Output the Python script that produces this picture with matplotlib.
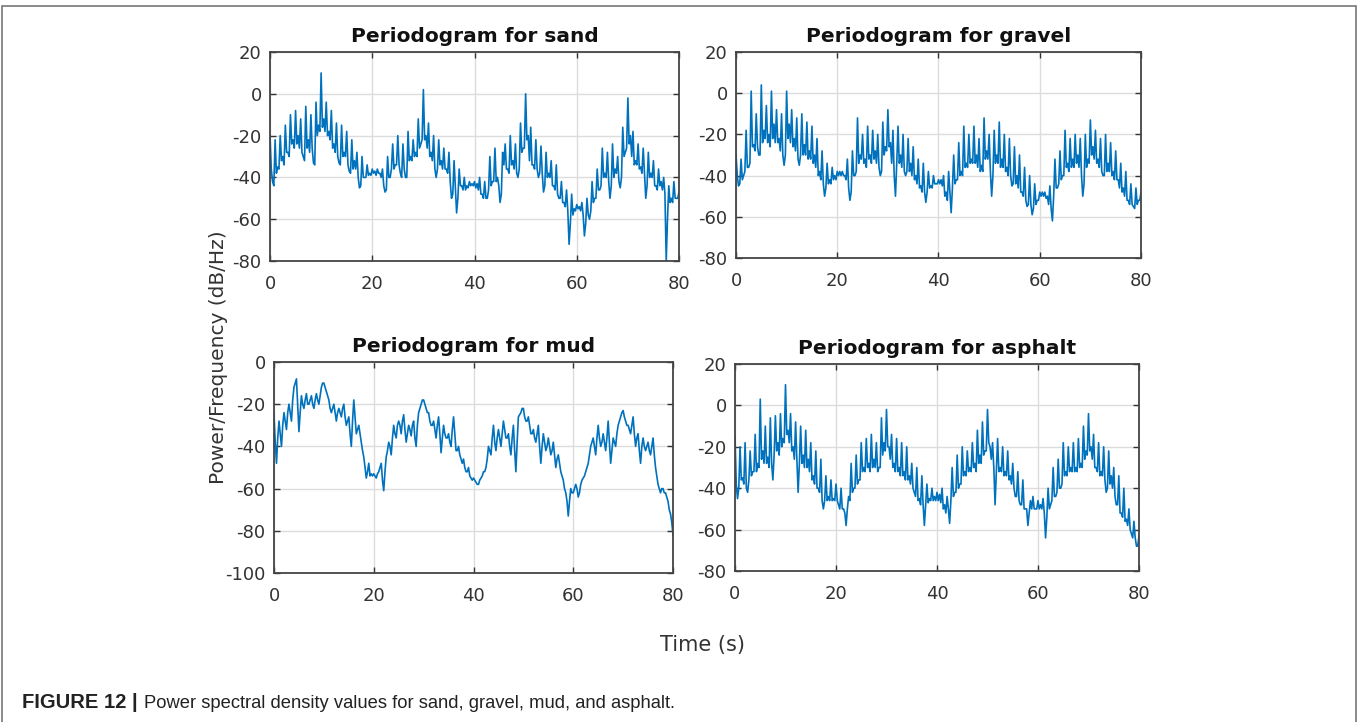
import numpy as np
import matplotlib
matplotlib.use("Agg")
import matplotlib.pyplot as plt
from matplotlib.patches import Rectangle

plt.rcParams['axes.unicode_minus'] = False

# readings every 0.5 s, plus readings taken in between (0.25 s offset)
time_main = np.arange(0, 80.5, 0.5)
time_mid = np.arange(0.25, 80, 0.5)

sand = [-20, -42, -22, -35, -20, -30, -15, -28, -10, -22,
        -8, -20, -12, -30, -6, -22, -10, -33, -4, -15,
        10, -12, -4, -18, -8, -24, -14, -33, -15, -28,
        -18, -37, -22, -32, -28, -45, -30, -40, -34, -38,
        -36, -37, -36, -38, -36, -47, -30, -40, -24, -34,
        -20, -38, -24, -40, -18, -30, -22, -28, -12, -24,
        2, -20, -14, -28, -20, -40, -22, -32, -26, -36,
        -28, -50, -32, -57, -36, -44, -40, -44, -42, -43,
        -42, -43, -40, -48, -42, -50, -30, -42, -26, -40,
        -52, -28, -24, -36, -20, -32, -24, -40, -14, -26,
        0, -20, -16, -34, -22, -40, -25, -47, -28, -38,
        -32, -44, -34, -50, -42, -52, -46, -72, -48, -55,
        -53, -54, -52, -68, -50, -60, -42, -50, -36, -46,
        -26, -38, -28, -50, -24, -36, -30, -45, -16, -28,
        -2, -20, -18, -32, -24, -35, -26, -50, -28, -38,
        -32, -44, -36, -42, -40, -80, -44, -50, -42, -50,
        -47]
sand_mid = [-36, -44, -38, -36, -32, -34, -28, -30, -24, -26,
            -24, -26, -28, -32, -26, -28, -26, -34, -20, -18,
            -16, -18, -20, -22, -26, -28, -30, -34, -30, -30,
            -34, -38, -36, -36, -40, -44, -40, -40, -39, -39,
            -38, -39, -38, -40, -44, -46, -40, -36, -36, -34,
            -34, -40, -36, -40, -32, -32, -30, -30, -26, -22,
            -22, -26, -30, -32, -36, -36, -34, -36, -36, -38,
            -42, -48, -44, -50, -44, -46, -46, -45, -44, -44,
            -45, -46, -48, -50, -50, -46, -44, -42, -42, -44,
            -48, -34, -36, -38, -34, -36, -38, -36, -28, -26,
            -22, -32, -34, -36, -36, -38, -38, -44, -40, -40,
            -44, -46, -48, -50, -52, -54, -56, -62, -58, -56,
            -55, -56, -58, -62, -58, -56, -52, -50, -46, -44,
            -40, -40, -42, -44, -40, -38, -42, -40, -30, -26,
            -24, -30, -34, -34, -36, -38, -38, -44, -40, -40,
            -44, -46, -44, -46, -48, -60, -52, -52, -50, -50]

gravel = [-30, -45, -32, -40, -18, -36, 1, -25, -10, -30,
          4, -18, -6, -20, 1, -15, -8, -22, -10, -35,
          1, -15, -8, -22, -12, -35, -10, -25, -14, -28,
          -16, -30, -22, -38, -28, -50, -34, -42, -36, -40,
          -38, -38, -38, -40, -32, -52, -28, -40, -12, -30,
          -20, -32, -16, -30, -18, -28, -20, -40, -14, -26,
          -8, -24, -18, -50, -16, -30, -20, -40, -22, -34,
          -26, -40, -32, -45, -34, -53, -38, -45, -40, -44,
          -42, -42, -40, -48, -38, -58, -30, -42, -24, -38,
          -16, -34, -20, -32, -16, -30, -22, -35, -12, -28,
          -20, -50, -18, -30, -14, -32, -20, -36, -22, -45,
          -26, -40, -30, -48, -36, -55, -40, -59, -44, -52,
          -48, -48, -48, -50, -45, -62, -32, -46, -28, -40,
          -18, -34, -22, -32, -20, -30, -22, -50, -20, -32,
          -13, -26, -18, -32, -22, -40, -20, -34, -24, -38,
          -28, -42, -34, -46, -38, -52, -44, -55, -46, -52,
          -48]
gravel_mid = [-40, -44, -42, -38, -36, -34, -26, -28, -26, -30,
              -24, -22, -24, -26, -22, -24, -24, -28, -30, -30,
              -22, -24, -26, -28, -32, -30, -30, -30, -32, -32,
              -34, -36, -40, -42, -44, -46, -44, -44, -42, -42,
              -40, -40, -40, -42, -46, -48, -40, -38, -34, -32,
              -34, -36, -32, -34, -32, -34, -36, -38, -30, -28,
              -26, -34, -40, -34, -34, -36, -38, -38, -38, -40,
              -42, -44, -46, -48, -48, -48, -46, -46, -44, -44,
              -44, -45, -50, -52, -48, -46, -44, -42, -40, -40,
              -36, -36, -34, -34, -34, -36, -38, -38, -32, -32,
              -38, -40, -34, -34, -36, -36, -38, -40, -40, -44,
              -44, -46, -48, -50, -52, -54, -54, -56, -54, -52,
              -50, -50, -51, -54, -56, -50, -46, -44, -42, -40,
              -36, -38, -36, -36, -34, -36, -40, -44, -36, -34,
              -30, -32, -34, -36, -38, -40, -38, -38, -40, -42,
              -42, -46, -48, -50, -52, -54, -54, -56, -54, -52]

mud = [-25, -48, -28, -40, -24, -32, -20, -28, -12, -8,
       -33, -16, -22, -15, -20, -16, -22, -15, -20, -12,
       -10, -14, -18, -24, -20, -28, -22, -26, -20, -30,
       -26, -40, -18, -34, -30, -38, -45, -55, -48, -53,
       -53, -55, -52, -48, -61, -45, -38, -44, -30, -36,
       -28, -34, -25, -38, -30, -35, -28, -40, -24, -20,
       -18, -22, -24, -30, -28, -36, -26, -43, -30, -36,
       -34, -40, -26, -42, -40, -46, -46, -52, -50, -55,
       -55, -57, -58, -55, -52, -50, -40, -44, -30, -42,
       -32, -40, -28, -36, -34, -44, -30, -52, -26, -24,
       -22, -28, -26, -34, -32, -38, -30, -48, -34, -42,
       -36, -44, -38, -50, -44, -52, -56, -62, -73, -60,
       -62, -58, -64, -58, -55, -52, -48, -40, -36, -44,
       -30, -40, -34, -42, -28, -48, -36, -40, -30, -26,
       -23, -28, -30, -34, -26, -40, -34, -48, -36, -42,
       -38, -44, -36, -50, -58, -62, -60, -62, -66, -72,
       -82]
mud_mid = [-38, -36, -34, -30, -28, -24, -24, -18, -10, -20,
           -24, -20, -18, -20, -18, -20, -18, -18, -16, -10,
           -12, -16, -22, -22, -24, -24, -24, -22, -26, -28,
           -34, -28, -26, -32, -34, -42, -50, -52, -54, -54,
           -54, -53, -50, -56, -52, -42, -40, -36, -34, -30,
           -30, -28, -32, -34, -32, -30, -36, -30, -22, -18,
           -20, -24, -28, -30, -32, -30, -34, -36, -34, -36,
           -38, -32, -34, -42, -44, -48, -50, -52, -54, -56,
           -56, -58, -56, -54, -52, -46, -42, -36, -38, -36,
           -36, -34, -32, -36, -40, -36, -42, -38, -25, -22,
           -26, -28, -30, -34, -36, -34, -40, -40, -38, -40,
           -40, -42, -44, -46, -48, -54, -60, -66, -66, -62,
           -60, -60, -62, -56, -54, -50, -44, -38, -40, -36,
           -36, -38, -38, -36, -38, -42, -38, -34, -28, -24,
           -26, -30, -32, -30, -34, -36, -42, -40, -40, -40,
           -42, -40, -44, -54, -60, -60, -62, -64, -70, -76]

asphalt = [-15, -45, -20, -35, -18, -42, -22, -32, -14, -28,
           3, -22, -10, -25, -6, -36, -5, -18, -4, -16,
           10, -12, -4, -20, -8, -42, -10, -24, -12, -26,
           -18, -34, -22, -40, -26, -50, -34, -44, -36, -45,
           -38, -48, -40, -50, -58, -44, -28, -40, -24, -36,
           -18, -30, -16, -28, -14, -26, -18, -30, -6, -18,
           -2, -20, -14, -28, -16, -30, -18, -32, -20, -34,
           -28, -42, -30, -45, -34, -58, -38, -45, -40, -44,
           -42, -43, -40, -48, -44, -57, -30, -42, -24, -38,
           -20, -32, -22, -30, -18, -28, -12, -24, -8, -22,
           -2, -20, -18, -48, -16, -30, -20, -32, -22, -34,
           -28, -44, -32, -48, -36, -50, -58, -46, -44, -50,
           -46, -48, -45, -64, -40, -48, -30, -44, -26, -40,
           -18, -32, -20, -30, -18, -30, -16, -28, -10, -22,
           -4, -20, -14, -30, -18, -32, -20, -42, -22, -34,
           -30, -48, -34, -52, -40, -55, -50, -62, -56, -68,
           -63]
asphalt_mid = [-38, -40, -36, -38, -40, -36, -34, -32, -32, -30,
               -26, -28, -28, -30, -28, -24, -22, -24, -20, -18,
               -14, -18, -22, -26, -26, -28, -28, -30, -30, -32,
               -36, -38, -40, -42, -46, -46, -46, -46, -46, -46,
               -46, -50, -50, -52, -50, -46, -42, -40, -38, -36,
               -32, -32, -30, -32, -30, -30, -32, -30, -24, -22,
               -20, -26, -30, -32, -32, -34, -34, -36, -36, -38,
               -40, -44, -46, -48, -48, -48, -47, -46, -46, -46,
               -46, -47, -50, -52, -50, -46, -44, -42, -40, -38,
               -34, -34, -32, -32, -30, -32, -28, -28, -24, -22,
               -18, -26, -30, -32, -32, -32, -34, -34, -36, -38,
               -40, -44, -46, -48, -50, -50, -52, -50, -50, -50,
               -50, -50, -52, -54, -50, -46, -44, -42, -40, -38,
               -34, -34, -32, -32, -32, -32, -30, -30, -26, -24,
               -22, -26, -30, -32, -34, -34, -36, -40, -38, -40,
               -44, -48, -52, -54, -56, -58, -60, -64, -64, -68]

surfaces = ["sand", "gravel", "mud", "asphalt"]
series = [(sand, sand_mid), (gravel, gravel_mid), (mud, mud_mid), (asphalt, asphalt_mid)]
ylims = [(-80, 20), (-80, 20), (-100, 0), (-80, 20)]
yticks = [np.arange(-80, 21, 20), np.arange(-80, 21, 20),
          np.arange(-100, 1, 20), np.arange(-80, 21, 20)]
xticks = [0, 20, 40, 60, 80]

# axes boxes in pixels: left, right, top, bottom
boxes = [(270, 679, 52, 261), (736, 1141, 52, 258),
         (274, 673, 362, 573), (735, 1139, 364, 571)]

W, H = 1358, 722
fig = plt.figure(figsize=(W / 100, H / 100), dpi=100)

line_color = "#0072BD"
dark = "#333333"

t_all = np.concatenate([time_main, time_mid])
order = np.argsort(t_all)

for name, (vals, vals_mid), yl, yt, (l, r, t, b) in zip(surfaces, series, ylims, yticks, boxes):
    v_all = np.concatenate([vals, vals_mid])
    ax = fig.add_axes([l / W, 1 - b / H, (r - l) / W, (b - t) / H])
    ax.plot(t_all[order], v_all[order], color=line_color, linewidth=1.2)
    ax.set_xlim(0, 80)
    ax.set_ylim(*yl)
    ax.set_xticks(xticks)
    ax.set_yticks(yt)
    ax.grid(True, color="#dcdcdc", linewidth=1.0)
    ax.set_axisbelow(True)
    ax.tick_params(direction="in", length=4, width=1, colors=dark,
                   labelsize=13, top=True, right=True, pad=6)
    ax.tick_params(axis="x", pad=10)
    for s in ax.spines.values():
        s.set_color("#444444")
        s.set_linewidth(1.3)
    ax.set_title("Periodogram for " + name, fontsize=14.5, fontweight="bold",
                 color="#111111", pad=7)

fig.text(218 / W, 1 - 357 / H, "Power/Frequency (dB/Hz)", rotation=90,
         ha="center", va="center", fontsize=14.5, color=dark)
fig.text(702 / W, 1 - 645 / H, "Time (s)", ha="center", va="center",
         fontsize=15, color=dark)

# caption under the figure
cap = fig.text(22 / W, 1 - 703 / H, "FIGURE 12 |", ha="left", va="center",
               fontsize=14.5, fontweight="bold", family="Liberation Sans", color="#222222")
fig.canvas.draw()
bb = cap.get_window_extent()
fig.text((bb.x1 + 6) / W, 1 - 703 / H,
         "Power spectral density values for sand, gravel, mud, and asphalt.",
         ha="left", va="center", fontsize=13.2, family="Liberation Sans", color="#222222")

# frame around the whole figure panel
fig.patches.append(Rectangle((2 / W, -0.05), (1356 - 2) / W, 1 - 6 / H + 0.05,
                             transform=fig.transFigure, fill=False,
                             edgecolor="#777777", linewidth=1.2))

fig.savefig("out.png", dpi=100)
